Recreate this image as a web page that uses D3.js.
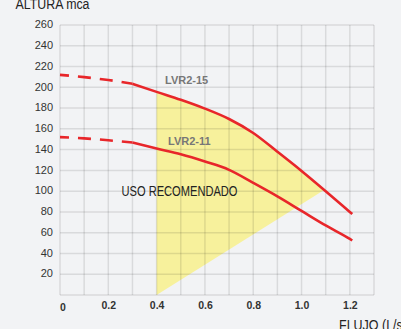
<!DOCTYPE html>
<html><head><meta charset="utf-8">
<script src="https://cdn.jsdelivr.net/npm/d3@7"></script>
<style>
html,body{margin:0;padding:0;background:#f2f3f5;overflow:hidden}
svg{display:block}
</style></head>
<body>
<script>
// ---- data ----
const flujo = [0, 0.1, 0.2, 0.3, 0.4, 0.5, 0.6, 0.7, 0.8, 0.9, 1.0, 1.1, 1.2, 1.21];
const lvr2_15 = [212, 209.8, 207, 203.4, 195.6, 188, 179.5, 169.5, 156, 138, 119.5, 100, 80, 78];
const lvr2_11 = [152, 150.8, 149, 146.8, 141, 135.5, 128.5, 120.5, 108, 95, 81, 67, 54, 52.5];
const dashedUntil = 0.3;
const usoLow = [[0.4, 0], [1.09, 100.5]];   // lower boundary of recommended zone
const xTicks = [0, 0.2, 0.4, 0.6, 0.8, 1.0, 1.2];
const yTicks = [20, 40, 60, 80, 100, 120, 140, 160, 180, 200, 220, 240, 260];
const seriesNames = ["LVR2-15", "LVR2-11"];

const W = 401, H = 329;
const svg = d3.select("body").append("svg").attr("width", W).attr("height", H);
svg.append("rect").attr("width", W).attr("height", H).attr("fill", "#f2f3f5");

const x = d3.scaleLinear().domain([0, 1.3]).range([60, 374]);
const y = d3.scaleLinear().domain([0, 260]).range([295, 25]);

const narrow = "'Liberation Sans Narrow','Liberation Sans',Arial,sans-serif";
const sans = "'Liberation Sans',Arial,sans-serif";

// yellow recommended region: area under LVR2-15, clipped by vertical x=0.4 and diagonal
const defs = svg.append("defs");
const k = (usoLow[1][1] - usoLow[0][1]) / (usoLow[1][0] - usoLow[0][0]);
const clipPts = [
  [usoLow[0][0], usoLow[0][1]],
  [usoLow[0][0], 260],
  [1.3, 260],
  [1.3, usoLow[0][1] + k * (1.3 - usoLow[0][0])]
];
defs.append("clipPath").attr("id", "usoClip")
  .append("polygon").attr("points", clipPts.map(p => [x(p[0]), y(p[1])].join(",")).join(" "));

const pts15 = flujo.map((f, i) => [f, lvr2_15[i]]);
const pts11 = flujo.map((f, i) => [f, lvr2_11[i]]);

const area = d3.area().x(d => x(d[0])).y0(y(0)).y1(d => y(d[1])).curve(d3.curveMonotoneX);
svg.append("path").attr("d", area(pts15)).attr("fill", "#f7f19c").attr("clip-path", "url(#usoClip)");

// grid
const grid = svg.append("g").attr("stroke", "#000").attr("stroke-opacity", 0.1).attr("stroke-width", 1.5);
grid.selectAll("line.v").data(d3.range(0, 14)).join("line")
  .attr("x1", d => x(d / 10)).attr("x2", d => x(d / 10)).attr("y1", y(0)).attr("y2", y(260));
grid.selectAll("line.h").data(d3.range(0, 14)).join("line")
  .attr("y1", d => y(d * 20)).attr("y2", d => y(d * 20)).attr("x1", x(0)).attr("x2", x(1.3));

// axes labels via d3 axes (no domain/ticks lines)
const yAxis = svg.append("g").attr("transform", `translate(${x(0)},0)`)
  .call(d3.axisLeft(y).tickValues(yTicks).tickSize(0).tickPadding(7));
yAxis.select(".domain").remove();
yAxis.selectAll("text").attr("font-family", sans).attr("font-size", 11).attr("fill", "#333").attr("dy", "0.25em");

const xAxis = svg.append("g").attr("transform", `translate(0,${y(0)})`)
  .call(d3.axisBottom(x).tickValues(xTicks).tickSize(0).tickPadding(5)
    .tickFormat(d => d === 0 ? "0" : d3.format(".1f")(d)));
xAxis.select(".domain").remove();
xAxis.selectAll("text").attr("font-family", sans).attr("font-weight", 600).attr("font-size", 10.5).attr("fill", "#333")
  .attr("dy", d => d === 0 ? "1.0em" : "0.9em").attr("dx", d => d === 0 ? 2.5 : 0);

// curves
const line = d3.line().x(d => x(d[0])).y(d => y(d[1])).curve(d3.curveMonotoneX);
[pts15, pts11].forEach(pts => {
  const dash = pts.filter(p => p[0] <= dashedUntil);
  const solid = pts.filter(p => p[0] >= dashedUntil);
  svg.append("path").attr("d", line(dash)).attr("fill", "none").attr("stroke", "#e8262a")
    .attr("stroke-width", 2.6).attr("stroke-dasharray", "13,9").attr("stroke-dashoffset", 4);
  svg.append("path").attr("d", line(solid)).attr("fill", "none").attr("stroke", "#e8262a")
    .attr("stroke-width", 2.6);
});

// labels
svg.append("text").attr("x", 165).attr("y", 84).text(seriesNames[0])
  .attr("font-family", sans).attr("font-weight", "bold").attr("font-size", 11).attr("fill", "#777");
svg.append("text").attr("x", 168).attr("y", 145).text(seriesNames[1])
  .attr("font-family", sans).attr("font-weight", "bold").attr("font-size", 11).attr("fill", "#777");
svg.append("text").attr("x", 121.5).attr("y", 196).text("USO RECOMENDADO")
  .attr("font-family", narrow).attr("font-size", 14).attr("fill", "#222")
  .attr("textLength", 116).attr("lengthAdjust", "spacingAndGlyphs");
svg.append("text").attr("x", 15.5).attr("y", 9).text("ALTURA mca")
  .attr("font-family", narrow).attr("font-size", 14).attr("fill", "#222")
  .attr("textLength", 74).attr("lengthAdjust", "spacingAndGlyphs");
svg.append("text").attr("x", 339).attr("y", 330).text("FLUJO (L/s)")
  .attr("font-family", narrow).attr("font-size", 14).attr("fill", "#222")
  .attr("textLength", 68).attr("lengthAdjust", "spacingAndGlyphs");
</script>
</body></html>
